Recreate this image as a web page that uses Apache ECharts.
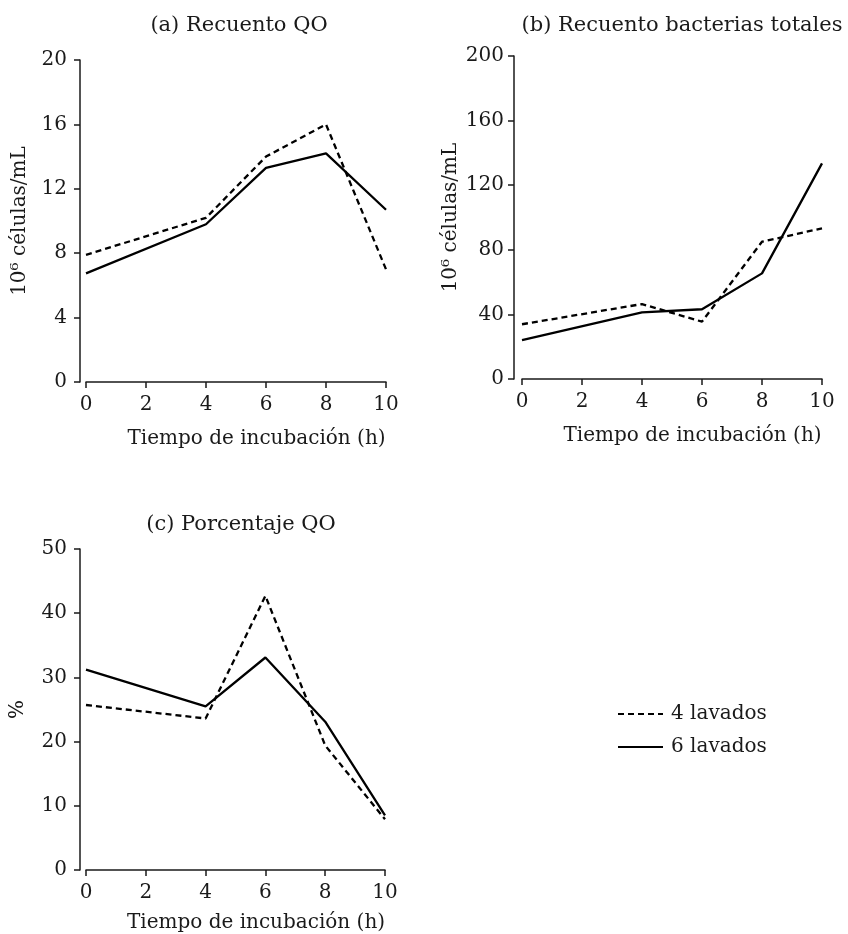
<!DOCTYPE html>
<html>
<head>
<meta charset="utf-8">
<script src="https://cdn.jsdelivr.net/npm/echarts@6/dist/echarts.min.js"></script>
<style>
  html, body { margin: 0; padding: 0; background: #fff; }
  #chart { width: 848px; height: 934px; }
</style>
</head>
<body>
<div id="chart"></div>
<script>
// Incubation time (h)
const hours = [0, 4, 6, 8, 10];
const xTicks = [0, 2, 4, 6, 8, 10];

// (a) QO count, 10^6 cells/mL
const qo4 = [7.9, 10.2, 14.0, 16.0, 7.0];
const qo6 = [6.75, 9.8, 13.3, 14.2, 10.7];

// (b) Total bacteria count, 10^6 cells/mL
const total4 = [33.9, 46.4, 35.5, 85.0, 93.3];
const total6 = [24.1, 41.3, 43.2, 65.4, 133.5];

// (c) QO percentage
const pct4 = [25.7, 23.6, 42.7, 19.4, 7.9];
const pct6 = [31.2, 25.5, 33.1, 23.1, 8.5];

const seriesNames = ['4 lavados', '6 lavados'];
const panelTitles = ['(a) Recuento QO', '(b) Recuento bacterias totales', '(c) Porcentaje QO'];
const yNames = ['10\u2076 células/mL', '10\u2076 células/mL', '%'];
const xName = 'Tiempo de incubación (h)';

const FONT = 'DejaVu Serif';
const INK = '#1a1a1a';
const textBase = { fontFamily: FONT, fontSize: 20, color: INK };

function pairs(values) {
  return values.map((v, i) => [hours[i], v]);
}

const grids = [
  { left: 86, top: 60, width: 300, height: 322 },
  { left: 522, top: 56, width: 300, height: 323 },
  { left: 86, top: 549, width: 299, height: 323 }
];

const yCfg = [
  { max: 20, interval: 4, offset: 6, gap: 50, margin: 13 },
  { max: 200, interval: 40, offset: 8, gap: 53, margin: 10 },
  { max: 50, interval: 10, offset: 6, gap: 52, margin: 13 }
];
const xGap = [47, 47, 43];

const lineStyleAxis = { color: INK, width: 1.5 };
const axisTick = { show: true, length: 6, lineStyle: lineStyleAxis };

const xAxes = grids.map((g, i) => ({
  type: 'value', gridIndex: i, min: 0, max: 10, interval: 2,
  axisLine: { show: true, onZero: false, lineStyle: lineStyleAxis },
  axisTick, splitLine: { show: false },
  axisLabel: Object.assign({ margin: 13 }, textBase),
  name: xName, nameLocation: 'middle', nameGap: xGap[i],
  nameTextStyle: Object.assign({ padding: [0, 0, 0, 41] }, textBase)
}));

const yAxes = yCfg.map((c, i) => ({
  type: 'value', gridIndex: i, min: 0, max: c.max, interval: c.interval,
  offset: c.offset,
  axisLine: { show: true, onZero: false, lineStyle: lineStyleAxis },
  axisTick, splitLine: { show: false },
  axisLabel: Object.assign({ margin: c.margin }, textBase),
  name: yNames[i], nameLocation: 'middle', nameGap: c.gap,
  nameTextStyle: Object.assign({}, textBase)
}));

const dashed = { color: '#000', width: 2.3, type: [6, 4] };
const solid = { color: '#000', width: 2.3, type: 'solid' };

const panelData = [[qo4, qo6], [total4, total6], [pct4, pct6]];
const series = [];
panelData.forEach((pair, i) => {
  pair.forEach((vals, k) => {
    series.push({
      type: 'line', name: seriesNames[k],
      xAxisIndex: i, yAxisIndex: i,
      data: pairs(vals),
      symbol: 'none', silent: true, animation: false,
      lineStyle: k === 0 ? dashed : solid,
      itemStyle: { color: '#000' },
      z: k === 0 ? 3 : 2
    });
  });
});

const titleCenters = [[239, 15], [682, 15], [241, 514]];
const titles = panelTitles.map((t, i) => ({
  text: t, left: titleCenters[i][0], top: titleCenters[i][1], textAlign: 'center',
  padding: 0,
  textStyle: { fontFamily: FONT, fontSize: 21, fontWeight: 'normal', color: INK }
}));

const chart = echarts.init(document.getElementById('chart'), null, { renderer: 'canvas' });
chart.setOption({
  backgroundColor: '#fff',
  animation: false,
  title: titles,
  grid: grids,
  xAxis: xAxes,
  yAxis: yAxes,
  legend: {
    data: seriesNames,
    orient: 'vertical',
    left: 612, top: 699,
    itemWidth: 45, itemHeight: 14, itemGap: 13,
    selectedMode: false,
    itemStyle: { color: 'transparent', borderWidth: 0, opacity: 0 },
    textStyle: Object.assign({ padding: [0, 0, 0, 3] }, textBase)
  },
  series
});
</script>
</body>
</html>
